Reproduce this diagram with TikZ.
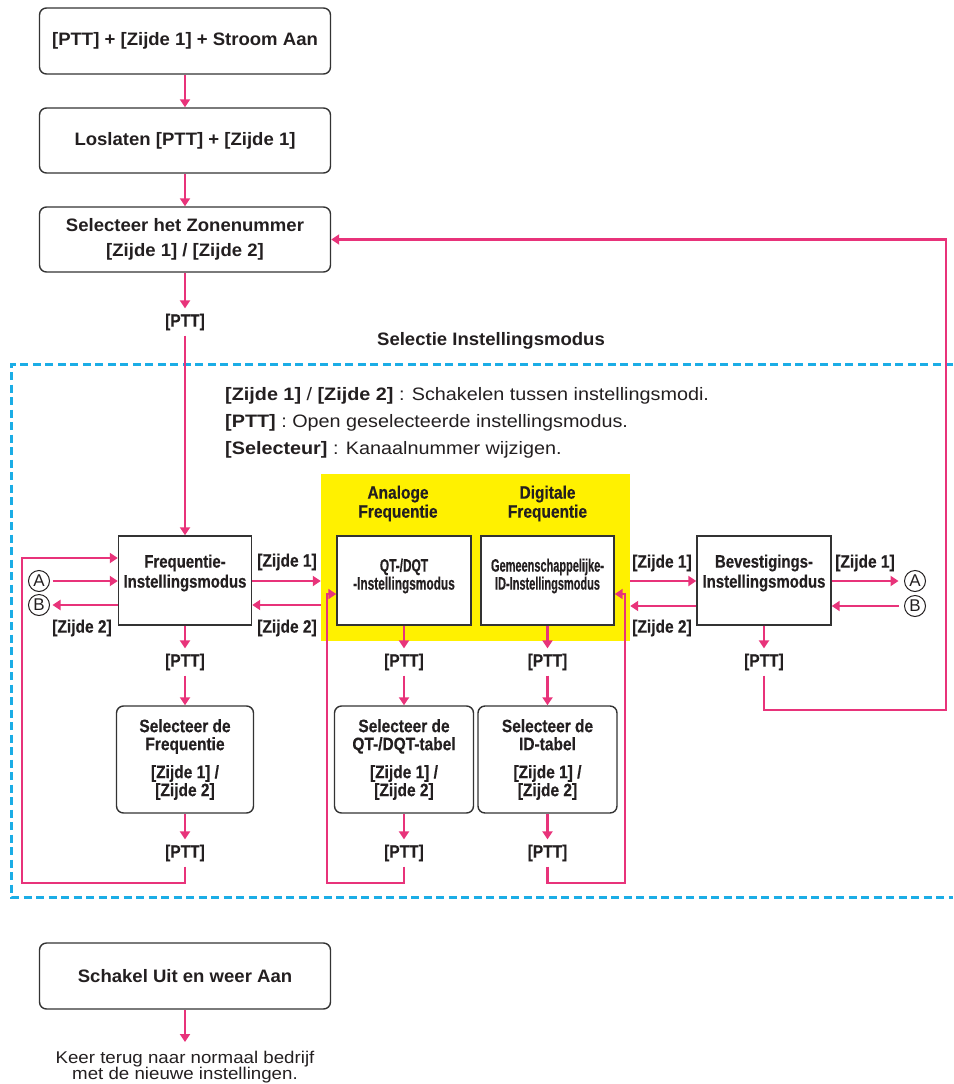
\documentclass[tikz,border=0pt]{standalone}
\usepackage{fontspec}
\setmainfont{Liberation Sans}
\newfontfamily\fTop[FakeStretch=1.03]{Liberation Sans}
\newfontfamily\fLab[FakeStretch=0.86,FakeBold=0.4]{Liberation Sans}
\newfontfamily\fMode[FakeStretch=0.83,FakeBold=0.4]{Liberation Sans}
\newfontfamily\fQT[FakeStretch=0.66,FakeBold=0.4]{Liberation Sans}
\newfontfamily\fID[FakeStretch=0.61,FakeBold=0.4]{Liberation Sans}
\newfontfamily\fDesc[FakeStretch=1.1]{Liberation Sans}
\newfontfamily\fBot[FakeStretch=1.1]{Liberation Sans}
\usetikzlibrary{arrows.meta}
\definecolor{pk}{HTML}{E8337A}
\definecolor{cy}{HTML}{1BADE6}
\definecolor{yl}{HTML}{FFF100}
\definecolor{tx}{HTML}{231F20}
\definecolor{bd}{HTML}{333333}
\tikzset{
  pa/.style={draw=pk, line width=2.6pt, -{Triangle[length=8pt,width=10pt]}},
  rbox/.style={draw=bd, line width=1.4pt, rounded corners=7pt, fill=white, inner sep=0pt},
  sbox/.style={draw=bd, line width=1.4pt, fill=white, inner sep=0pt},
  topt/.style={font=\fTop\bfseries\fontsize{18}{25}\selectfont, text=tx, align=center},
  lab/.style={font=\fLab\bfseries\fontsize{18}{19}\selectfont, text=tx, inner sep=2pt, align=center},
  ptt/.style={lab, inner sep=5pt},
  modet/.style={font=\fMode\bfseries\fontsize{18}{20}\selectfont, text=tx, align=center, inner sep=0pt},
  qtt/.style={font=\fQT\bfseries\fontsize{18}{18}\selectfont, text=tx, align=center, inner sep=0pt},
  idt/.style={font=\fID\bfseries\fontsize{18}{18}\selectfont, text=tx, align=center, inner sep=0pt},
  lowt/.style={font=\fLab\bfseries\fontsize{18}{18}\selectfont, text=tx, align=center},
  desc/.style={font=\fDesc\fontsize{18}{18}\selectfont, text=tx, anchor=west, inner sep=0pt},
  circ/.style={circle, draw=tx, line width=1pt, minimum size=21pt, inner sep=0pt, text=tx, font=\fontsize{17}{17}\selectfont},
}
\begin{document}
\begin{tikzpicture}[x=1pt,y=-1pt]
\useasboundingbox (0,0) rectangle (953,1084);
% dashed frame
\draw[cy, line width=3pt, dash pattern=on 8pt off 4.5pt] (953,364) -- (11,364) -- (11,897) -- (953,897);
\node[font=\fTop\bfseries\fontsize{18}{18}\selectfont, text=tx] (sel) at (491,341) {Selectie Instellingsmodus};
% yellow zone
\node[fill=yl, minimum width=309pt, minimum height=167pt, inner sep=0pt] (yel) at (475.5,557.5) {};
\node[lab] (ana) at (398,503.5) {Analoge\\Frequentie};
\node[lab] (dig) at (547.5,503.5) {Digitale\\Frequentie};
% top boxes
\node[rbox, topt, minimum width=291pt, minimum height=66pt] (b1) at (185,41) {[PTT] + [Zijde 1] + Stroom Aan};
\node[rbox, topt, minimum width=291pt, minimum height=65pt] (b2) at (185,140.5) {Loslaten [PTT] + [Zijde 1]};
\node[rbox, topt, minimum width=291pt, minimum height=65pt] (b3) at (185,239.5) {Selecteer het Zonenummer\\{[Zijde 1] / [Zijde 2]}};
\node[ptt] (p0) at (185,322) {[PTT]};
% description
\node[desc] (d1) at (225,396) {\textbf{[Zijde 1]} / \textbf{[Zijde 2]} : Schakelen tussen instellingsmodi.};
\node[desc] (d2) at (225,423) {\textbf{[PTT]} : Open geselecteerde instellingsmodus.};
\node[desc] (d3) at (225,450) {\textbf{[Selecteur]} : Kanaalnummer wijzigen.};
% mode boxes
\node[sbox, minimum width=133pt, minimum height=89pt] (freq) at (185,580.5) {};
\node[modet] (freqt) at (185,573) {Frequentie-\\Instellingsmodus};
\node[sbox, minimum width=134pt, minimum height=89pt] (qt) at (404,580.5) {};
\node[qtt] (qtt) at (404,576) {QT-/DQT\\-Instellingsmodus};
\node[sbox, minimum width=133pt, minimum height=89pt] (id) at (547.5,580.5) {};
\node[idt] (idt) at (547.5,576) {Gemeenschappelijke-\\ID-Instellingsmodus};
\node[sbox, minimum width=134pt, minimum height=89pt] (bev) at (764,580.5) {};
\node[modet] (bevt) at (764,573) {Bevestigings-\\Instellingsmodus};
% circles
\node[circ, outer sep=3pt] (cA1) at (39,581) {A};
\node[circ, outer sep=3pt] (cB1) at (39,605) {B};
\node[circ, outer sep=6pt] (cA2) at (915,581) {A};
\node[circ, outer sep=6pt] (cB2) at (915,606) {B};
% side labels
\node[lab] (zL2) at (82,628) {[Zijde 2]};
\node[lab] (zM1) at (287,562) {[Zijde 1]};
\node[lab] (zM2) at (287,628) {[Zijde 2]};
\node[lab] (zB1) at (662,563) {[Zijde 1]};
\node[lab] (zB2) at (662,628) {[Zijde 2]};
\node[lab] (zR1) at (865,563) {[Zijde 1]};
% PTT row 1
\node[ptt] (pF1) at (185,662) {[PTT]};
\node[ptt] (pQ1) at (404,662) {[PTT]};
\node[ptt] (pI1) at (547.5,662) {[PTT]};
\node[ptt] (pB) at (764,662) {[PTT]};
% lower boxes
\node[rbox, lowt, minimum width=137pt, minimum height=107pt] (sF) at (185,759.5) {Selecteer de\\Frequentie\\[10pt]{[Zijde 1] /}\\{[Zijde 2]}};
\node[rbox, lowt, minimum width=139pt, minimum height=107pt] (sQ) at (404,759.5) {Selecteer de\\QT-/DQT-tabel\\[10pt]{[Zijde 1] /}\\{[Zijde 2]}};
\node[rbox, lowt, minimum width=139pt, minimum height=107pt] (sI) at (547.5,759.5) {Selecteer de\\ID-tabel\\[10pt]{[Zijde 1] /}\\{[Zijde 2]}};
% PTT row 2
\node[ptt] (pF2) at (185,853) {[PTT]};
\node[ptt] (pQ2) at (404,853) {[PTT]};
\node[ptt] (pI2) at (547.5,853) {[PTT]};
% bottom
\node[rbox, topt, minimum width=291pt, minimum height=66pt] (bot) at (185,976) {Schakel Uit en weer Aan};
\node[font=\fBot\fontsize{17}{16.5}\selectfont, text=tx, align=center, anchor=north, inner xsep=0pt, inner ysep=8.6pt] (fin) at (185,1042) {Keer terug naar normaal bedrijf\\met de nieuwe instellingen.};
% loop corner coordinates
\coordinate (lpF) at (22,883);
\coordinate (lpQ) at (327,883);
\coordinate (lpI) at (625,883);
\coordinate (lpB) at (946,710);
% connectors
\draw[pa] (b1.south) -- (b2.north);
\draw[pa] (b2.south) -- (b3.north);
\draw[pa] (b3.south) -- (p0.north);
\draw[pa] (p0.south) -- (freq.north);
\draw[pa] (freq.south) -- (pF1.north);
\draw[pa] (qt.south) -- (pQ1.north);
\draw[pa] (id.south) -- (pI1.north);
\draw[pa] (bev.south) -- (pB.north);
\draw[pa] (pF1.south) -- (sF.north);
\draw[pa] (pQ1.south) -- (sQ.north);
\draw[pa] (pI1.south) -- (sI.north);
\draw[pa] (sF.south) -- (pF2.north);
\draw[pa] (sQ.south) -- (pQ2.north);
\draw[pa] (sI.south) -- (pI2.north);
\draw[pa] (pF2.south) -- (pF2.south |- lpF) -- (lpF) |- ([yshift=22.5pt]freq.west);
\draw[pa] (pQ2.south) -- (pQ2.south |- lpQ) -- (lpQ) |- ([yshift=-13.5pt]qt.west);
\draw[pa] (pI2.south) -- (pI2.south |- lpI) -- (lpI) |- ([yshift=-13.5pt]id.east);
\draw[pa] (pB.south) -- (pB.south |- lpB) -- (lpB) |- (b3.east);
\draw[pa] (cA1.east) -- (freq.west |- cA1);
\draw[pa] (freq.west |- cB1) -- (cB1.east);
\draw[pa] (freq.east |- cA1) -- (yel.west |- cA1);
\draw[pa] (yel.west |- cB1) -- (freq.east |- cB1);
\draw[pa] (yel.east |- cA2) -- (bev.west |- cA2);
\draw[pa] (bev.west |- cB2) -- (yel.east |- cB2);
\draw[pa] (bev.east |- cA2) -- (cA2.west);
\draw[pa] (cB2.west) -- (bev.east |- cB2);
\draw[pa] (bot.south) -- (fin.north);
\end{tikzpicture}
\end{document}
